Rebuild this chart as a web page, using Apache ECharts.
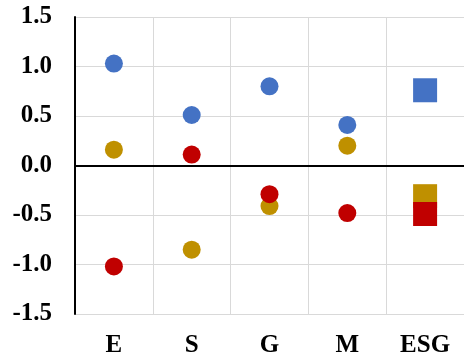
<!DOCTYPE html>
<html><head><meta charset="utf-8">
<script src="https://cdn.jsdelivr.net/npm/echarts@6/dist/echarts.min.js"></script>
<style>html,body{margin:0;padding:0;background:#fff}#c{width:464px;height:360px}</style>
</head><body><div id="c"></div>
<script>
var categories = ['E', 'S', 'G', 'M', 'ESG'];
var blueValues = [1.03, 0.51, 0.80, 0.41, 0.76];
var goldValues = [0.16, -0.85, -0.41, 0.20, -0.31];
var redValues = [-1.02, 0.11, -0.29, -0.48, -0.49];
var yTicks = { min: -1.5, max: 1.5, interval: 0.5 };

function toData(vals) {
  return vals.map(function (v, i) {
    if (categories[i] === 'ESG') return { value: v, symbol: 'rect', symbolSize: 24 };
    return { value: v, symbol: 'circle', symbolSize: 18 };
  });
}
var font = '"Liberation Serif","Times New Roman",serif';
var chart = echarts.init(document.getElementById('c'), null, { renderer: 'canvas' });
chart.setOption({
  animation: false,
  grid: { left: 75, right: 0, top: 17, bottom: 46 },
  xAxis: {
    type: 'category', data: categories, boundaryGap: true,
    axisLine: { onZero: true, lineStyle: { color: '#000', width: 2 } },
    axisTick: { show: false },
    axisLabel: { fontFamily: font, fontWeight: 'bold', fontSize: 25, color: '#000', margin: 19 },
    splitLine: { show: true, lineStyle: { color: '#d9d9d9', width: 1 } }
  },
  yAxis: {
    type: 'value', min: yTicks.min, max: yTicks.max, interval: yTicks.interval,
    axisLine: { show: true, onZero: false, lineStyle: { color: '#000', width: 2 } },
    axisTick: { show: false },
    axisLabel: { fontFamily: font, fontWeight: 'bold', fontSize: 25, color: '#000', margin: 23,
      formatter: function (v) { return v.toFixed(1); } },
    splitLine: { show: true, lineStyle: { color: '#d9d9d9', width: 1 } }
  },
  series: [
    { type: 'scatter', data: toData(blueValues), itemStyle: { color: '#4472C4', opacity: 1 } },
    { type: 'scatter', data: toData(goldValues), itemStyle: { color: '#BF9000', opacity: 1 } },
    { type: 'scatter', data: toData(redValues), itemStyle: { color: '#C00000', opacity: 1 } }
  ]
});
</script></body></html>
